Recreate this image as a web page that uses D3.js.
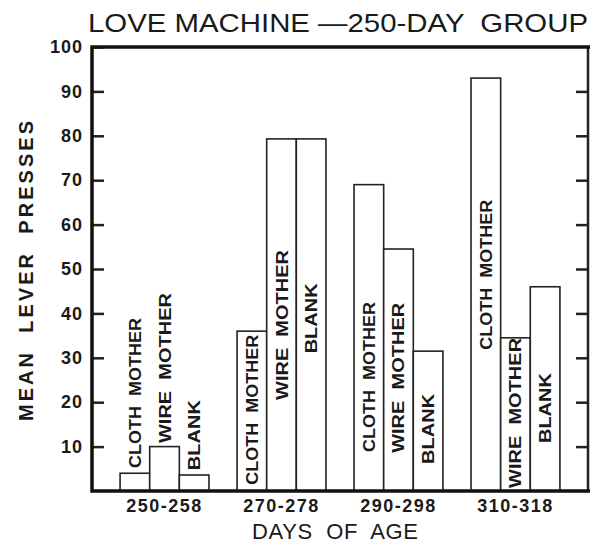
<!DOCTYPE html>
<html>
<head>
<meta charset="utf-8">
<script src="https://cdn.jsdelivr.net/npm/d3@7"></script>
<style>
  body { margin: 0; background: #fff; }
  text { font-family: "Liberation Sans", Arial, sans-serif; fill: #1a1a1a; }
</style>
</head>
<body>
<div id="chart"></div>
<script>
// data
var groups = ["250-258", "270-278", "290-298", "310-318"];
var series = ["CLOTH MOTHER", "WIRE MOTHER", "BLANK"];
var cloth = [4, 36, 69, 93];
var wire = [10, 79.3, 54.5, 34.5];
var blank = [3.6, 79.3, 31.5, 46];
var yTicks = [10, 20, 30, 40, 50, 60, 70, 80, 90, 100];

// where each bar's vertical label starts (in value units)
var labelStart = [
    [5.2, 10.8, 4.7],
    [1.4, 20.5, 31],
    [8.8, 8.6, 6.1],
    [31.8, 0.7, 10.8]
];

var width = 590, height = 545;
var margin = { top: 47, right: 2, bottom: 54, left: 92 };

var svg = d3.select("#chart")
    .append("svg")
    .attr("width", width)
    .attr("height", height);

var y = d3.scaleLinear()
    .domain([0, 100])
    .range([height - margin.bottom, margin.top]);

var x0 = d3.scaleBand()
    .domain(groups)
    .range([margin.left, width - margin.right])
    .paddingInner(0.24)
    .paddingOuter(0.24);

var x1 = d3.scaleBand()
    .domain(series)
    .range([0, x0.bandwidth()]);

var rows = groups.map(function(g, i) {
    return [cloth[i], wire[i], blank[i]].map(function(v, j) {
        return { group: g, s: series[j], value: v, lab: labelStart[i][j] };
    });
});

// bars
var g = svg.append("g")
    .selectAll("g")
    .data(rows)
    .enter()
    .append("g")
    .attr("transform", function(d, i) { return "translate(" + x0(groups[i]) + ",0)"; });

g.selectAll("rect")
    .data(function(d) { return d; })
    .enter()
    .append("rect")
    .attr("x", function(d) { return x1(d.s); })
    .attr("y", function(d) { return y(d.value); })
    .attr("width", x1.bandwidth())
    .attr("height", function(d) { return y(0) - y(d.value); })
    .attr("fill", "white")
    .attr("stroke", "#222")
    .attr("stroke-width", 1.6);

// vertical labels
g.selectAll("text")
    .data(function(d) { return d; })
    .enter()
    .append("text")
    .attr("transform", function(d) {
        return "translate(" + (x1(d.s) + x1.bandwidth() / 2 + 6) + "," + y(d.lab) + ") rotate(-90)";
    })
    .attr("font-size", 16)
    .attr("font-weight", "bold")
    .attr("textLength", function(d) { return d.s == "BLANK" ? 70 : 150; })
    .attr("lengthAdjust", "spacingAndGlyphs")
    .style("white-space", "pre")
    .text(function(d) { return d.s.replace(" ", "  "); });

// left axis
var yAxis = svg.append("g")
    .attr("transform", "translate(" + margin.left + ",0)")
    .call(d3.axisLeft(y).tickValues(yTicks).tickSize(-12).tickPadding(9));
yAxis.select(".domain").remove();
yAxis.selectAll("line").attr("stroke", "#222").attr("stroke-width", 2.5);
yAxis.selectAll("text")
    .attr("font-size", 18)
    .attr("font-weight", "bold")
    .attr("letter-spacing", 1)
    .attr("font-family", "Liberation Sans, Arial, sans-serif")
    .attr("fill", "#1a1a1a");

// right axis ticks
var yRight = svg.append("g")
    .attr("transform", "translate(" + (width - margin.right) + ",0)")
    .call(d3.axisRight(y).tickValues(yTicks.slice(0, 9)).tickSize(-12).tickFormat(""));
yRight.select(".domain").remove();
yRight.selectAll("line").attr("stroke", "#222").attr("stroke-width", 2.5);

// bottom axis labels
var xAxis = svg.append("g")
    .attr("transform", "translate(0," + y(0) + ")")
    .call(d3.axisBottom(x0).tickSize(0).tickPadding(8));
xAxis.select(".domain").remove();
xAxis.selectAll("text")
    .attr("font-size", 18)
    .attr("font-weight", "bold")
    .attr("letter-spacing", 1.5)
    .attr("font-family", "Liberation Sans, Arial, sans-serif")
    .attr("fill", "#1a1a1a");

// frame
var x = margin.left, r = width - margin.right;
svg.append("path")
    .attr("d", "M" + r + "," + y(100) + "V" + y(0))
    .attr("stroke", "#222").attr("stroke-width", 2.5).attr("fill", "none");
svg.append("path")
    .attr("d", "M" + (width) + "," + y(100) + "H" + x + "V" + y(0) + "H" + width)
    .attr("stroke", "#111").attr("stroke-width", 3.5).attr("fill", "none");

// title
svg.append("text")
    .attr("x", 88)
    .attr("y", 32)
    .attr("font-size", 26)
    .attr("textLength", 500)
    .attr("lengthAdjust", "spacingAndGlyphs")
    .style("white-space", "pre")
    .text("LOVE MACHINE \u2014250-DAY  GROUP");

// axis titles
svg.append("text")
    .attr("transform", "translate(33,271) rotate(-90)")
    .attr("text-anchor", "middle")
    .attr("font-size", 20)
    .attr("font-weight", "bold")
    .attr("textLength", 300)
    .attr("lengthAdjust", "spacing")
    .style("white-space", "pre")
    .text("MEAN  LEVER  PRESSES");

svg.append("text")
    .attr("x", 335)
    .attr("y", 539)
    .attr("text-anchor", "middle")
    .attr("font-size", 22)
    .attr("textLength", 166)
    .attr("lengthAdjust", "spacing")
    .style("white-space", "pre")
    .text("DAYS  OF  AGE");
</script>
</body>
</html>
